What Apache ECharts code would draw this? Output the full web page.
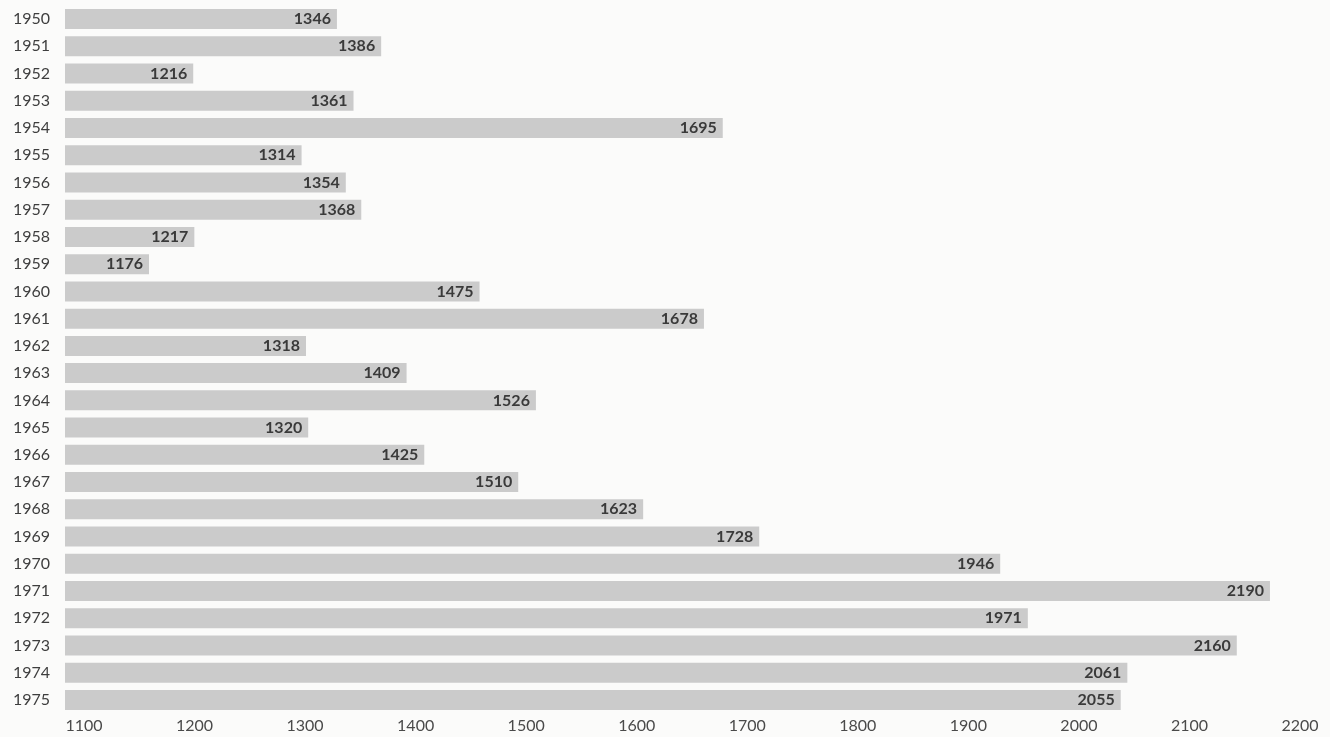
<!DOCTYPE html>
<html>
<head>
<meta charset="utf-8">
<script src="https://cdn.jsdelivr.net/npm/echarts@6/dist/echarts.min.js"></script>
<style>
html,body{margin:0;padding:0;background:#fbfbfa;}
#chart{width:1330px;height:737px;}
</style>
</head>
<body>
<div id="chart"></div>
<script>
const years = ['1950','1951','1952','1953','1954','1955','1956','1957','1958','1959','1960','1961','1962','1963','1964','1965','1966','1967','1968','1969','1970','1971','1972','1973','1974','1975'];
const values = [1346,1386,1216,1361,1695,1314,1354,1368,1217,1176,1475,1678,1318,1409,1526,1320,1425,1510,1623,1728,1946,2190,1971,2160,2061,2055];
const xTicks = [1100,1200,1300,1400,1500,1600,1700,1800,1900,2000,2100,2200];

const chart = echarts.init(document.getElementById('chart'));
chart.setOption({
  backgroundColor: '#fbfbfa',
  animation: false,
  grid: {left: 65, right: 49, top: 5.4, bottom: 23.4, containLabel: false},
  xAxis: {
    type: 'value',
    min: xTicks[0],
    max: xTicks[xTicks.length - 1],
    interval: 100,
    axisLine: {show: false},
    axisTick: {show: false},
    splitLine: {show: false},
    axisLabel: {
      color: '#4a4a4a', fontSize: 16, fontFamily: 'Lato, sans-serif', margin: 4,
      padding: [0, 0, 0, 38],
      formatter: v => String(v)
    }
  },
  yAxis: {
    type: 'category',
    data: years,
    inverse: true,
    axisLine: {show: false},
    axisTick: {show: false},
    splitLine: {show: false},
    axisLabel: {color: '#3e3e3e', fontSize: 16, fontFamily: 'Lato, sans-serif', margin: 15}
  },
  series: [{
    type: 'bar',
    data: values,
    barWidth: 20,
    itemStyle: {color: '#cbcbcb'},
    label: {
      show: true,
      position: 'insideRight',
      distance: 6,
      color: '#3a3a3a',
      fontSize: 16,
      fontWeight: 'bold',
      fontFamily: 'Lato, sans-serif'
    }
  }]
});
</script>
</body>
</html>
